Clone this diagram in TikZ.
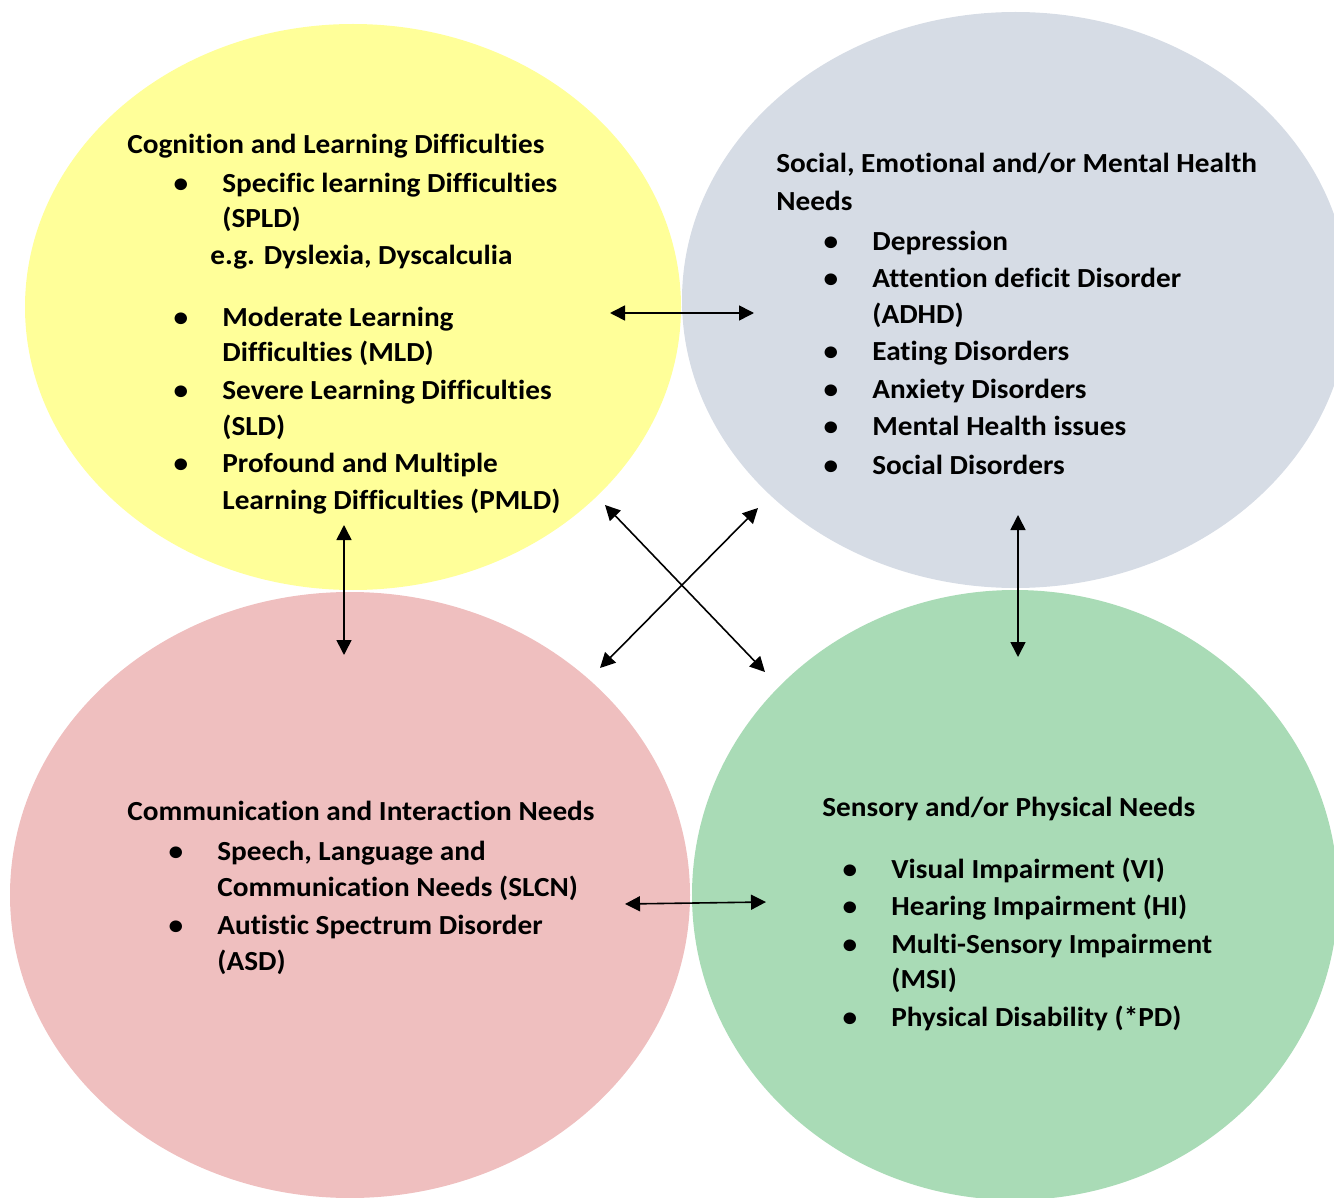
\documentclass[tikz,border=0pt]{standalone}
\usepackage{fontspec}
\setmainfont{Carlito}[Ligatures=NoCommon, FakeStretch=1.06]
\usetikzlibrary{arrows.meta,shapes.geometric}
\definecolor{cogy}{RGB}{255,255,153}
\definecolor{semg}{RGB}{214,220,229}
\definecolor{comp}{RGB}{239,191,191}
\definecolor{sensg}{RGB}{169,219,182}
\begin{document}
\begin{tikzpicture}[x=0.5pt,y=-0.5pt,
  lbl/.style={anchor=base west, inner sep=0pt, yshift=-1pt, font=\bfseries\fontsize{13.8}{16}\selectfont},
  bul/.style={anchor=base, inner sep=0pt, yshift=-1pt, font=\bfseries\fontsize{13.8}{16}\selectfont},
  blob/.style={ellipse, draw=none, inner sep=0pt, outer sep=0pt},
  link/.style={{Triangle[length=7.5pt,width=7.5pt]}-{Triangle[length=7.5pt,width=7.5pt]}, line width=0.8pt, black}
]
\useasboundingbox (0,0) rectangle (1334,1198);
\begin{scope}
\clip (0,0) rectangle (1334,1198);
\node[blob, fill=cogy, minimum width=328pt, minimum height=283pt] (cog) at (353,307) {};
\node[blob, fill=semg, minimum width=333.5pt, minimum height=288pt] (sem) at (1015.5,300) {};
\node[blob, fill=comp, minimum width=340pt, minimum height=303pt] (com) at (350,895) {};
\node[blob, fill=sensg, minimum width=323pt, minimum height=305pt] (sen) at (1015,895) {};
\end{scope}

% Cognition and Learning
\node[lbl] (c0) at (127,152) {Cognition and Learning Difficulties};
\node[bul] (cb1) at (181,191) {•};
\node[lbl] (c1) at (222,191) {Specific learning Difficulties};
\node[lbl] (c2) at (222,226) {(SPLD)};
\node[lbl] (c3) at (210,263) {e.g. Dyslexia, Dyscalculia};
\node[bul] (cb2) at (181,325) {•};
\node[lbl] (c4) at (222,325) {Moderate Learning};
\node[lbl] (c5) at (222,360) {Difficulties (MLD)};
\node[bul] (cb3) at (181,398) {•};
\node[lbl] (c6) at (222,398) {Severe Learning Difficulties};
\node[lbl] (c7) at (222,434) {(SLD)};
\node[bul] (cb4) at (181,471) {•};
\node[lbl] (c8) at (222,471) {Profound and Multiple};
\node[lbl] (c9) at (222,507) {Learning Difficulties (PMLD)};

% Social, Emotional
\node[lbl] (s0) at (776,171) {Social, Emotional and/or Mental Health};
\node[lbl] (s1) at (776,209) {Needs};
\node[bul] (sb1) at (831,249) {•};
\node[lbl] (s2) at (872,249) {Depression};
\node[bul] (sb2) at (831,286) {•};
\node[lbl] (s3) at (872,286) {Attention deficit Disorder};
\node[lbl] (s4) at (872,322) {(ADHD)};
\node[bul] (sb3) at (831,359) {•};
\node[lbl] (s5) at (872,359) {Eating Disorders};
\node[bul] (sb4) at (831,397) {•};
\node[lbl] (s6) at (872,397) {Anxiety Disorders};
\node[bul] (sb5) at (831,434) {•};
\node[lbl] (s7) at (872,434) {Mental Health issues};
\node[bul] (sb6) at (831,472) {•};
\node[lbl] (s8) at (872,472) {Social Disorders};

% Communication
\node[lbl] (m0) at (127,818) {Communication and Interaction Needs};
\node[bul] (mb1) at (176,858) {•};
\node[lbl] (m1) at (217,858) {Speech, Language and};
\node[lbl] (m2) at (217,894) {Communication Needs (SLCN)};
\node[bul] (mb2) at (176,932) {•};
\node[lbl] (m3) at (217,932) {Autistic Spectrum Disorder};
\node[lbl] (m4) at (217,968) {(ASD)};

% Sensory
\node[lbl] (p0) at (822,814) {Sensory and/or Physical Needs};
\node[bul] (pb1) at (850,876) {•};
\node[lbl] (p1) at (891,876) {Visual Impairment (VI)};
\node[bul] (pb2) at (850,913) {•};
\node[lbl] (p2) at (891,913) {Hearing Impairment (HI)};
\node[bul] (pb3) at (850,951) {•};
\node[lbl] (p3) at (891,951) {Multi-Sensory Impairment};
\node[lbl] (p4) at (891,986) {(MSI)};
\node[bul] (pb4) at (850,1024) {•};
\node[lbl] (p5) at (891,1024) {Physical Disability (*PD)};

% arrow ends
\coordinate (a1l) at (610,313);
\coordinate (a1r) at (754,313);
\coordinate (xtl) at (605,505);
\coordinate (xbr) at (765,672);
\coordinate (xtr) at (758,508);
\coordinate (xbl) at (600,668);
\coordinate (vlt) at (344,525);
\coordinate (vlb) at (344,655);
\coordinate (vrt) at (1018,515);
\coordinate (vrb) at (1018,657);
\coordinate (a6l) at (625,904);
\coordinate (a6r) at (766,902);

\draw[link] (a1l) -- (a1r);
\draw[link] (xtl) -- (xbr);
\draw[link] (xtr) -- (xbl);
\draw[link] (vlt) -- (vlb);
\draw[link] (vrt) -- (vrb);
\draw[link] (a6l) -- (a6r);
\end{tikzpicture}
\end{document}
